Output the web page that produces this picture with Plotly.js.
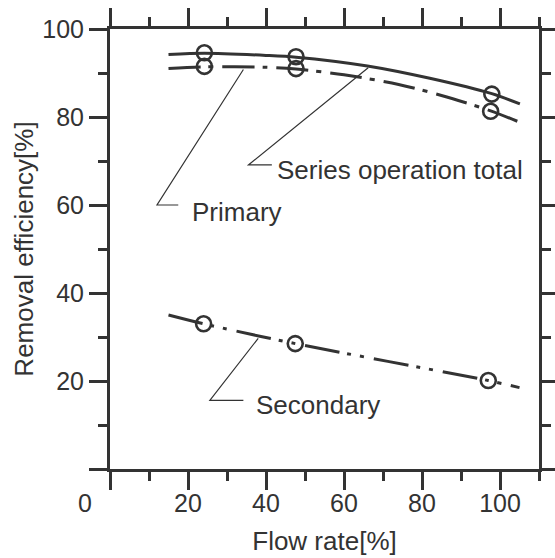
<!DOCTYPE html>
<html>
<head>
<meta charset="utf-8">
<script src="https://cdn.plot.ly/plotly-3.0.1.min.js"></script>
<style>html,body{margin:0;padding:0;background:#fff;}#chart{width:555px;height:558px;}</style>
</head>
<body>
<div id="chart"></div>
<script>
// Fitted curves
const totalCurveX = [15, 24.2, 40, 47.7, 66, 82, 97.9, 105.1];
const totalCurveY = [94.2, 94.5, 94.0, 93.6, 91.6, 88.8, 85.3, 83.0];
const primaryCurveX = [15, 24.2, 40, 47.7, 60, 74, 85, 97.6, 105.1];
const primaryCurveY = [91.0, 91.4, 91.3, 90.9, 89.6, 87.4, 84.9, 81.4, 78.8];
const secondaryCurveX = [15, 24, 47.5, 97, 105];
const secondaryCurveY = [35.0, 33.0, 28.5, 20.1, 18.5];
// Measured points
const totalPtsX = [24.2, 47.7, 97.9];
const totalPtsY = [94.6, 93.7, 85.2];
const primaryPtsX = [24.2, 47.7, 97.6];
const primaryPtsY = [91.5, 91.0, 81.3];
const secondaryPtsX = [24, 47.5, 97];
const secondaryPtsY = [33.0, 28.5, 20.1];
// Tick labels (the shared "0" is drawn once at the corner)
const cornerLabel = '0';

const ink = '#333333';
const font = 'Liberation Sans, Arial, sans-serif';

function curve(x, y, dash) {
  return {x: x, y: y, mode: 'lines', type: 'scatter', showlegend: false, hoverinfo: 'skip',
    line: {color: ink, width: 3, dash: dash, shape: 'spline', smoothing: 0.8}};
}
function pts(x, y) {
  return {x: x, y: y, mode: 'markers', type: 'scatter', showlegend: false,
    marker: {symbol: 'circle-open', size: 15, color: ink, line: {width: 2.6, color: ink}}};
}

const data = [
  curve(totalCurveX, totalCurveY, 'solid'),
  curve(primaryCurveX, primaryCurveY, '32px,8px,5px,9px'),
  curve(secondaryCurveX, secondaryCurveY, '35px,8px,4px,9px,4px,10px'),
  pts(totalPtsX, totalPtsY),
  pts(primaryPtsX, primaryPtsY),
  pts(secondaryPtsX, secondaryPtsY)
];

const axisCommon = {
  showline: true, linecolor: ink, linewidth: 3, mirror: 'allticks',
  ticks: 'outside', ticklen: 18, tickwidth: 3, tickcolor: ink,
  showgrid: false, zeroline: false, tickmode: 'linear', tick0: 0, dtick: 20,
  labelalias: {'0': ' '},
  tickfont: {family: font, size: 25, color: ink},
  minor: {dtick: 10, tick0: 0, ticklen: 9, tickwidth: 3, tickcolor: ink, ticks: 'outside', showgrid: false}
};

const layout = {
  width: 555, height: 558,
  margin: {l: 110, r: 16, t: 29, b: 89},
  paper_bgcolor: '#fff', plot_bgcolor: '#fff',
  font: {family: font, color: ink},
  xaxis: Object.assign({}, axisCommon, {
    range: [0, 110], ticklabelstandoff: -8,
    title: {text: 'Flow rate[%]', font: {family: font, size: 26, color: ink}, standoff: 16}
  }),
  yaxis: Object.assign({}, axisCommon, {
    range: [0, 100],
    title: {text: 'Removal efficiency[%]', font: {family: font, size: 26, color: ink}, standoff: 2}
  }),
  shapes: [
    {type: 'path', xref: 'x', yref: 'y', path: 'M 17.5,60 L 12.05,60 L 34.2,90.8', line: {color: ink, width: 1.2}},
    {type: 'path', xref: 'x', yref: 'y', path: 'M 41.5,69.1 L 35.5,69.1 L 66.2,91.2', line: {color: ink, width: 1.2}},
    {type: 'path', xref: 'x', yref: 'y', path: 'M 34.2,15.6 L 25.6,15.6 L 38.0,29.7', line: {color: ink, width: 1.2}}
  ],
  annotations: [
    {text: 'Primary', x: 20.5, y: 58.5, xref: 'x', yref: 'y', xanchor: 'left', yanchor: 'middle', showarrow: false, font: {family: font, size: 26, color: ink}},
    {text: 'Series operation total', x: 42.3, y: 68.0, xref: 'x', yref: 'y', xanchor: 'left', yanchor: 'middle', showarrow: false, font: {family: font, size: 26, color: ink}},
    {text: 'Secondary', x: 36.9, y: 14.5, xref: 'x', yref: 'y', xanchor: 'left', yanchor: 'middle', showarrow: false, font: {family: font, size: 26, color: ink}},
    {text: cornerLabel, x: -0.0583, y: -0.0773, xref: 'paper', yref: 'paper', xanchor: 'center', yanchor: 'middle', showarrow: false, font: {family: font, size: 25, color: ink}}
  ]
};

Plotly.newPlot('chart', data, layout, {displayModeBar: false, staticPlot: true});
</script>
</body>
</html>
